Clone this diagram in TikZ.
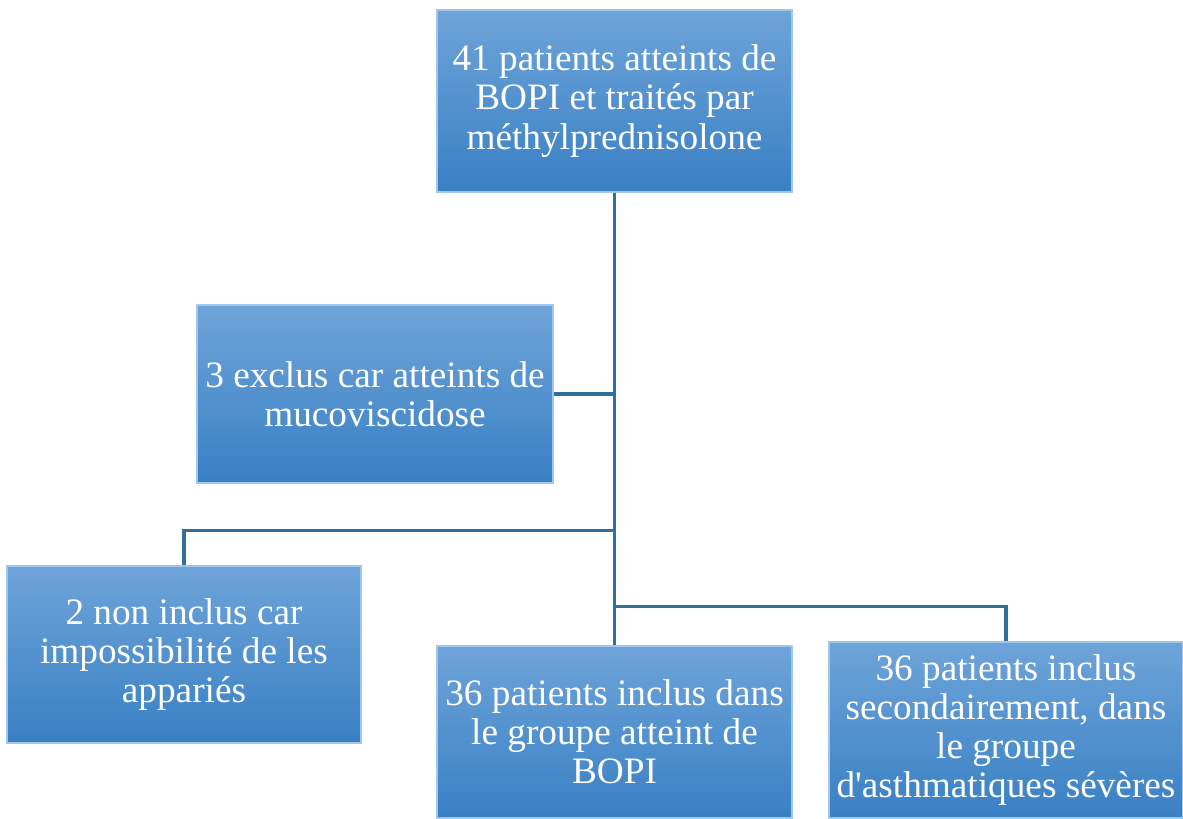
\documentclass[tikz,border=0pt]{standalone}
\usepackage{fontspec}
\setmainfont{Liberation Serif}
\usepackage{tikz}
\usepackage{xcolor}
\usetikzlibrary{
    calc,
    positioning
}
\definecolor{boxtop}{RGB}{110,164,217}
\definecolor{boxbot}{RGB}{57,128,196}
\definecolor{boxrim}{RGB}{160,200,236}
\definecolor{linkblue}{RGB}{48,112,155}
\tikzset{
    box/.style={rectangle, top color=boxtop, bottom color=boxbot, draw=boxrim,
        line width=0.8pt, text=white, align=center, inner sep=0pt,
        font=\fontsize{26.5}{27.8}\selectfont},
    link/.style={draw=linkblue, line width=2.2pt}
}

\begin{document}
\begin{tikzpicture}[x=0.025cm, y=-0.025cm]
                                \useasboundingbox (0, 0) rectangle (1183, 818);
                                \node[box, minimum width=8.875cm, minimum height=4.55cm] (o) at (614.5, 101)
                                    {41 patients atteints de\\BOPI et traités par\\méthylprednisolone};
                                \node[box, minimum width=8.9cm, minimum height=4.45cm] (om) at (375, 394)
                                    {3 exclus car atteints de\\mucoviscidose};
                                \node[box, minimum width=8.85cm, minimum height=4.425cm] (ol) at (184, 654.5)
                                    {2 non inclus car\\impossibilité de les\\appariés};
                                \node[box, minimum width=8.875cm, minimum height=4.3cm] (ob) at (614.5, 732)
                                    {36 patients inclus dans\\le groupe atteint de\\BOPI};
                                \node[box, minimum width=8.85cm, minimum height=4.4cm] (or) at (1006, 730)
                                    {36 patients inclus\\secondairement, dans\\le groupe\\d\textquotesingle asthmatiques sévères};
                                \coordinate (jl) at ($(o.south) + (0, 338)$);
                                \coordinate (jr) at ($(o.south) + (0, 414)$);
                                \draw[link]
                                (o.south) -- (ob.north)
                                (om.east) -- (om.east -| o.south)
                                (jl) -| (ol.north)
                                (jr) -| (or.north);
                            \end{tikzpicture}
\end{document}
